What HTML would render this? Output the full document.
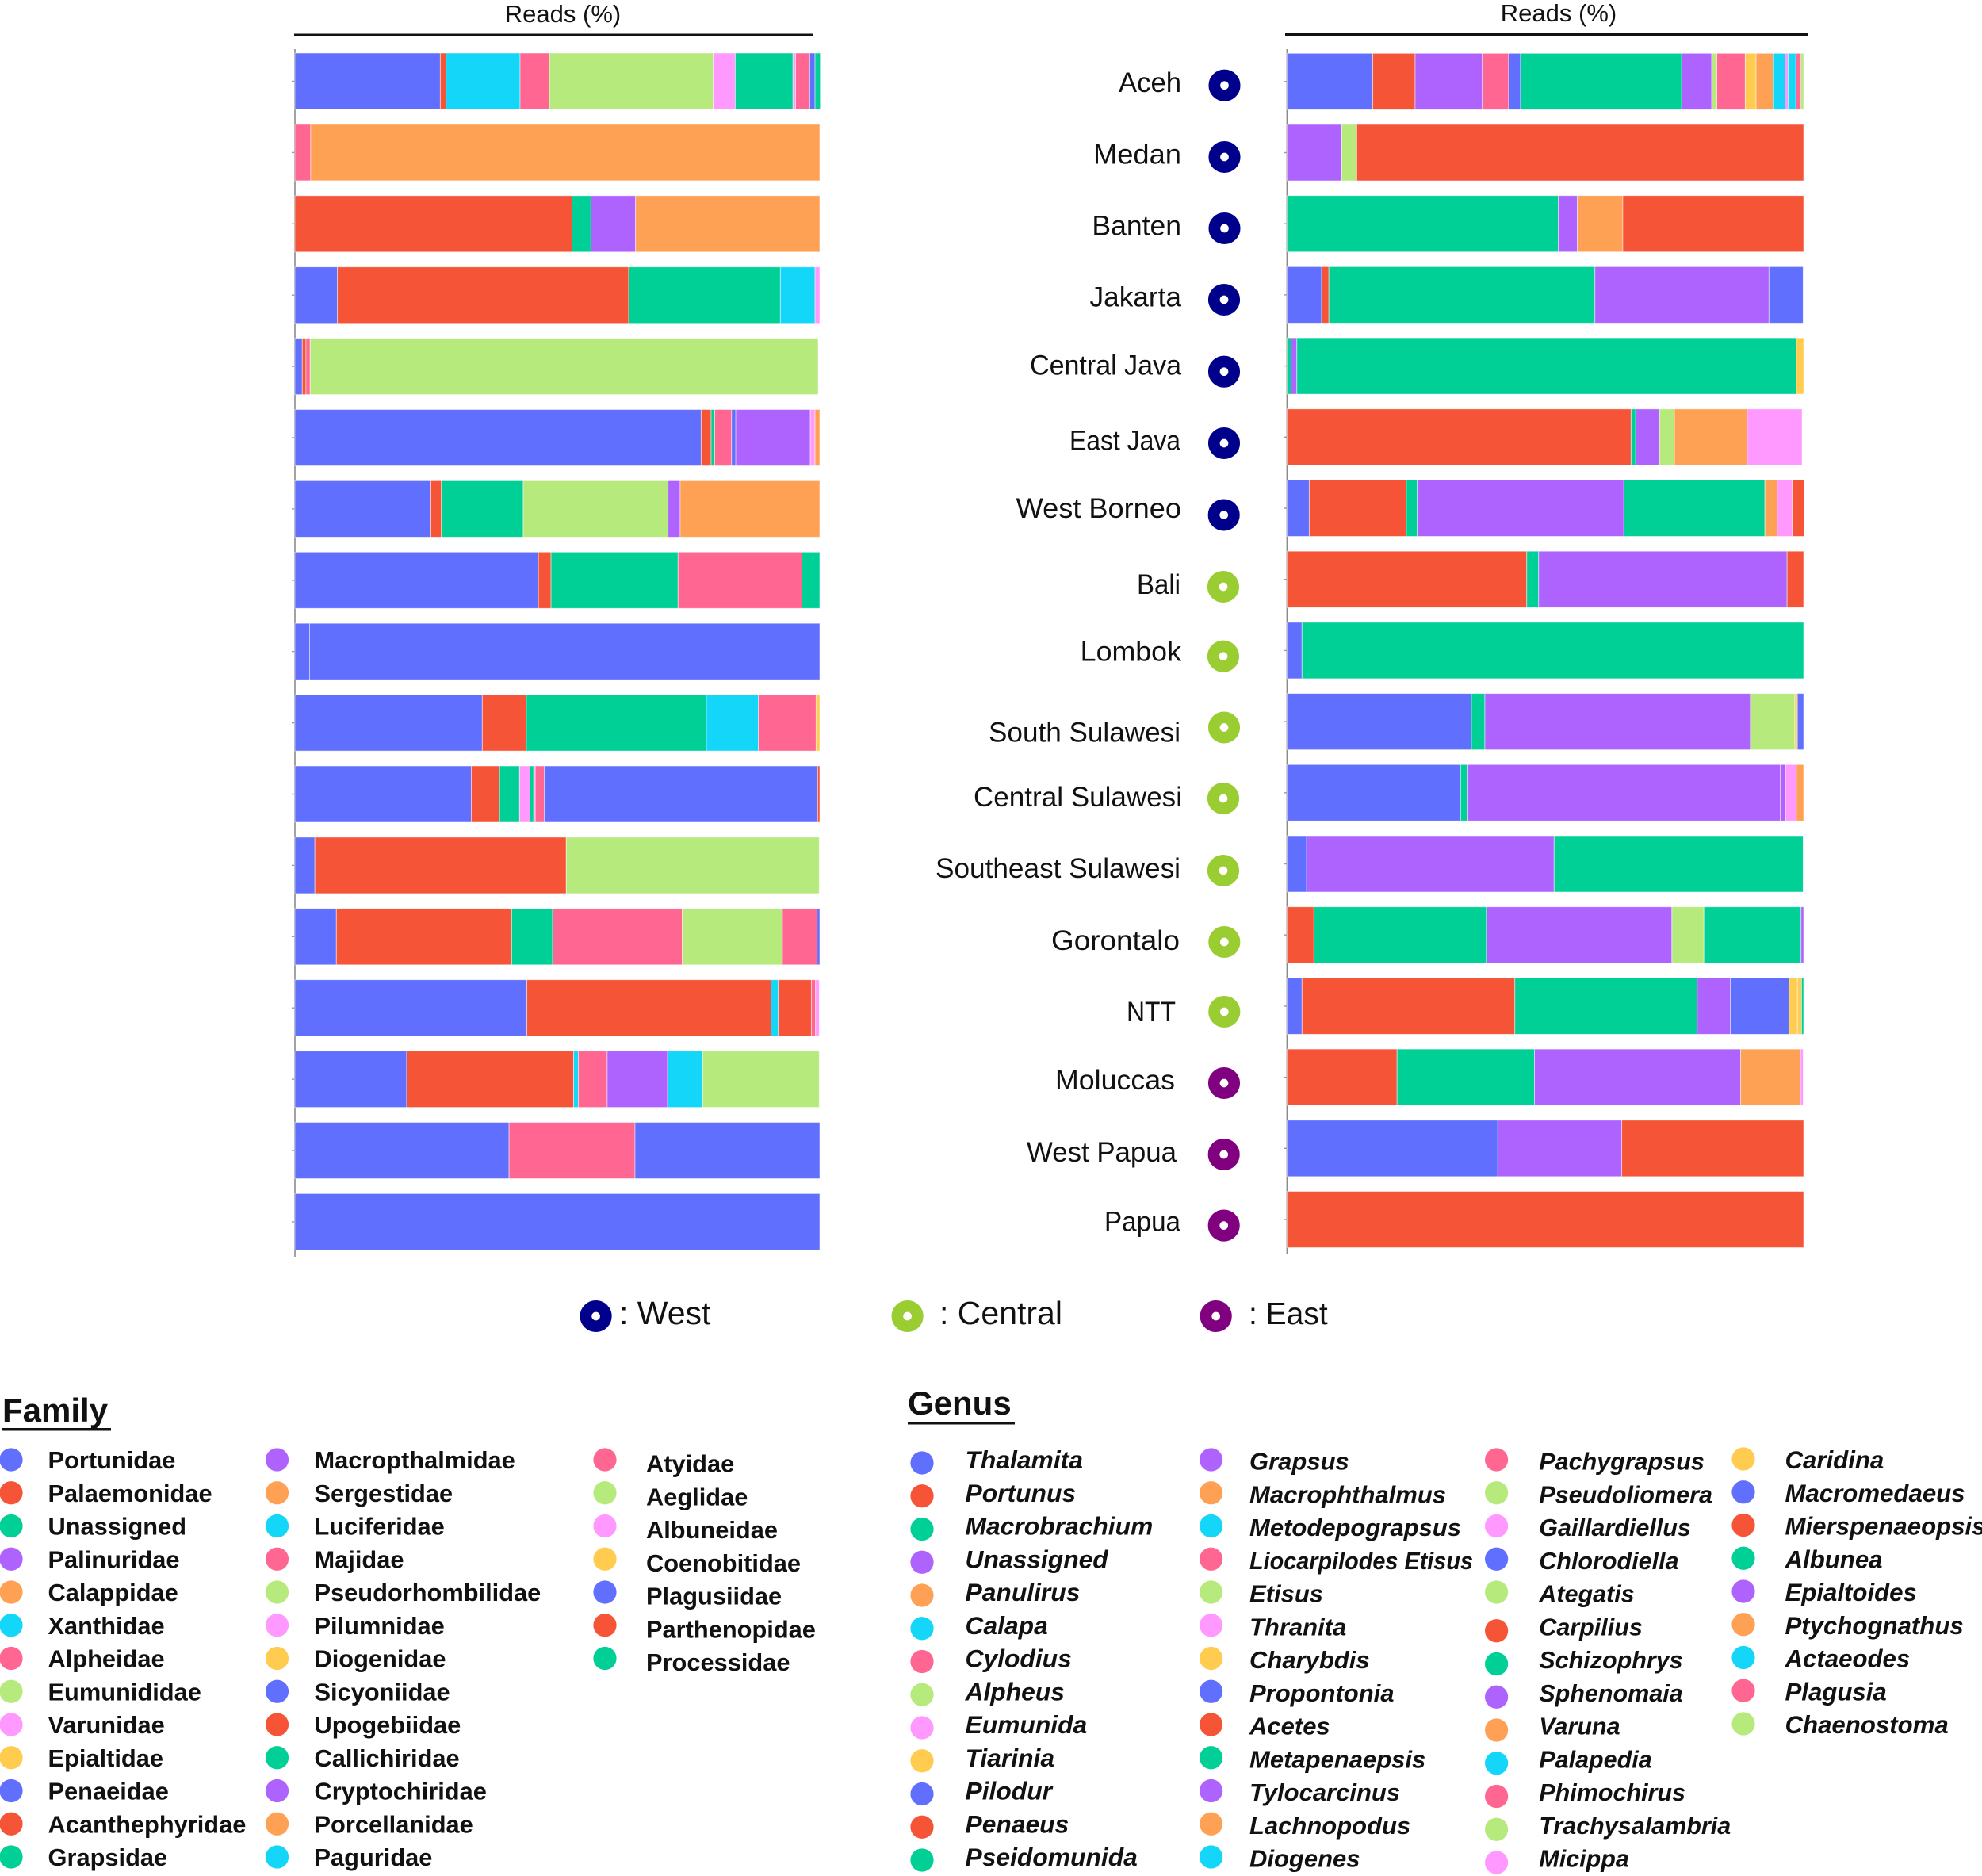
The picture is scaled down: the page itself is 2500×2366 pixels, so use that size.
<!DOCTYPE html>
<html lang="en">
<head>
<meta charset="utf-8">
<title>Reads (%) by region: Family and Genus</title>
<style>
html,body{margin:0;padding:0;background:#fff;}
body{width:2500px;height:2366px;overflow:hidden;}
svg{display:block;font-family:"Liberation Sans",sans-serif;}
.region{font-size:35px;fill:#111;text-anchor:end;}
.key{font-size:41px;fill:#111;}
.title{font-size:31px;fill:#111;text-anchor:middle;}
.head{font-size:42px;font-weight:bold;fill:#111;}
</style>
</head>
<body>
<svg id="figure" xmlns="http://www.w3.org/2000/svg" width="2500" height="2366" viewBox="0 0 2500 2366">
  <rect width="2500" height="2366" fill="#fff"/>

  <text class="title" x="710" y="28">Reads (%)</text>
  <rect x="371" y="42.5" width="655" height="3" fill="#111"/>
  <text class="title" x="1966" y="27">Reads (%)</text>
  <rect x="1621" y="42" width="660" height="3.5" fill="#111"/>

  <g id="family-panel"></g>
  <g id="genus-panel"></g>

  <g lengthAdjust="spacingAndGlyphs">
    <text class="region" x="1490" y="116" textLength="79" lengthAdjust="spacingAndGlyphs">Aceh</text>
    <text class="region" x="1490" y="206.7" textLength="111" lengthAdjust="spacingAndGlyphs">Medan</text>
    <text class="region" x="1490" y="296.7" textLength="112.6" lengthAdjust="spacingAndGlyphs">Banten</text>
    <text class="region" x="1490" y="386.7" textLength="115.5" lengthAdjust="spacingAndGlyphs">Jakarta</text>
    <text class="region" x="1490" y="472.3" textLength="191" lengthAdjust="spacingAndGlyphs">Central Java</text>
    <text class="region" x="1489" y="567.5" textLength="140" lengthAdjust="spacingAndGlyphs">East Java</text>
    <text class="region" x="1490" y="653" textLength="208.3" lengthAdjust="spacingAndGlyphs">West Borneo</text>
    <text class="region" x="1489" y="749" textLength="55" lengthAdjust="spacingAndGlyphs">Bali</text>
    <text class="region" x="1490" y="833.5" textLength="127.3" lengthAdjust="spacingAndGlyphs">Lombok</text>
    <text class="region" x="1489" y="935.5" textLength="242" lengthAdjust="spacingAndGlyphs">South Sulawesi</text>
    <text class="region" x="1491" y="1017" textLength="263" lengthAdjust="spacingAndGlyphs">Central Sulawesi</text>
    <text class="region" x="1489" y="1107" textLength="309" lengthAdjust="spacingAndGlyphs">Southeast Sulawesi</text>
    <text class="region" x="1488" y="1198" textLength="162" lengthAdjust="spacingAndGlyphs">Gorontalo</text>
    <text class="region" x="1483" y="1288" textLength="62" lengthAdjust="spacingAndGlyphs">NTT</text>
    <text class="region" x="1482" y="1374" textLength="151" lengthAdjust="spacingAndGlyphs">Moluccas</text>
    <text class="region" x="1484" y="1465" textLength="189" lengthAdjust="spacingAndGlyphs">West Papua</text>
    <text class="region" x="1489" y="1552.6" textLength="96" lengthAdjust="spacingAndGlyphs">Papua</text>
  </g>

  <g fill="none" stroke-width="14.7">
    <circle cx="1544.5" cy="107.7" r="12.7" stroke="#00008b"/>
    <circle cx="1544.5" cy="198" r="12.7" stroke="#00008b"/>
    <circle cx="1544.5" cy="288" r="12.7" stroke="#00008b"/>
    <circle cx="1544" cy="378" r="12.7" stroke="#00008b"/>
    <circle cx="1544" cy="468.7" r="12.7" stroke="#00008b"/>
    <circle cx="1544" cy="559" r="12.7" stroke="#00008b"/>
    <circle cx="1543.7" cy="649.5" r="12.7" stroke="#00008b"/>
    <circle cx="1543" cy="740" r="12.7" stroke="#9acd32"/>
    <circle cx="1543" cy="827.7" r="12.7" stroke="#9acd32"/>
    <circle cx="1544" cy="917.5" r="12.7" stroke="#9acd32"/>
    <circle cx="1543" cy="1007" r="12.7" stroke="#9acd32"/>
    <circle cx="1543" cy="1098" r="12.7" stroke="#9acd32"/>
    <circle cx="1544.3" cy="1188" r="12.7" stroke="#9acd32"/>
    <circle cx="1544.3" cy="1276" r="12.7" stroke="#9acd32"/>
    <circle cx="1544" cy="1366" r="12.7" stroke="#800080"/>
    <circle cx="1543.7" cy="1456" r="12.7" stroke="#800080"/>
    <circle cx="1543.7" cy="1545.6" r="12.7" stroke="#800080"/>
  </g>

  <g>
    <circle cx="751.6" cy="1660" r="12.7" fill="none" stroke="#00008b" stroke-width="14.7"/>
    <text class="key" x="781" y="1670">: West</text>
    <circle cx="1144.6" cy="1660" r="12.7" fill="none" stroke="#9acd32" stroke-width="14.7"/>
    <text class="key" x="1185" y="1670">: Central</text>
    <circle cx="1533.7" cy="1660" r="12.7" fill="none" stroke="#800080" stroke-width="14.7"/>
    <text class="key" x="1575" y="1670" style="font-size:39px">: East</text>
  </g>

  <text class="head" x="3" y="1793">Family</text>
  <rect x="3" y="1801" width="137" height="3.5" fill="#111"/>
  <text class="head" x="1145" y="1784">Genus</text>
  <rect x="1145" y="1793" width="135" height="3.5" fill="#111"/>

  <g id="family-legend"></g>
  <g id="genus-legend"></g>
</svg>

<script>
// Row categories (top to bottom)
const regions = ["Aceh","Medan","Banten","Jakarta","Central Java","East Java","West Borneo","Bali","Lombok","South Sulawesi","Central Sulawesi","Southeast Sulawesi","Gorontalo","NTT","Moluccas","West Papua","Papua"];

// Ten-colour cycle shared by the bars and legends
const palette = ["#616FFF","#F55437","#00D095","#AE63FF","#FFA155","#14D6F9","#FF6692","#B7EA7D","#FF99FF","#FFCC50"];

// Family panel: read percentages per row, with the palette slot of each segment
const familyValues = [
  [27.7,1.1,14.1,5.6,31.2,4.2,11,0.5,2.7,1,1],
  [3,97],
  [52.8,3.6,8.5,35.1],
  [8.1,55.5,28.9,6.6,0.9],
  [1.4,0.7,0.8,96.8],
  [77.4,1.9,0.7,3.2,0.8,14.2,0.9,0.9],
  [25.9,2,15.6,27.6,2.3,26.6],
  [46.4,2.4,24.2,23.6,3.4],
  [2.8,97.2],
  [35.7,8.4,34.3,9.9,11,0.7],
  [33.6,5.4,3.8,2,0.7,0.3,1.7,52.1,0.4],
  [3.8,47.9,48.2],
  [7.9,33.4,7.8,24.7,19.1,6.6,0.5],
  [44.2,46.5,1.4,6.3,0.8,0.7],
  [21.3,31.8,0.9,5.5,11.5,6.7,22.2],
  [40.8,24,35.2],
  [100]
];
const familySeries = [
  [0,1,5,6,7,8,2,8,6,0,2],
  [6,4],
  [1,2,3,4],
  [0,1,2,5,8],
  [0,1,6,7],
  [0,1,2,6,0,3,8,4],
  [0,1,2,7,3,4],
  [0,1,2,6,2],
  [0,0],
  [0,1,2,5,6,9],
  [0,1,2,8,2,8,6,0,1],
  [0,1,7],
  [0,1,2,6,7,6,0],
  [0,1,5,1,6,8],
  [0,1,5,6,3,5,7],
  [0,6,0],
  [0]
];

// Genus panel: read percentages per row, with the palette slot of each segment
const genusValues = [
  [16.6,8.2,13,5.1,2.3,31.2,5.8,1,5.5,2.1,3.4,2.2,0.6,1.5,1,0.5],
  [10.6,2.9,86.5],
  [52.5,3.7,8.8,35],
  [6.7,1.4,51.5,33.7,6.6],
  [0.8,1.1,96.7,1.4],
  [66.6,0.9,4.6,2.9,14.1,10.6],
  [4.3,18.8,2.1,40,27.3,2.4,2.9,2.3],
  [46.4,2.3,48.1,3.2],
  [2.9,97.1],
  [35.7,2.6,51.4,8.6,0.5,1.2],
  [33.6,1.4,60.5,1,2.1,1.4],
  [3.8,47.9,48.2],
  [5.2,33.4,35.9,6.2,18.8,0.5],
  [2.9,41.2,35.3,6.4,11.4,1.6,0.8,0.4],
  [21.3,26.6,39.9,11.6,0.5],
  [40.8,24,35.2],
  [100]
];
const genusSeries = [
  [0,1,3,6,0,2,3,7,6,9,4,5,8,5,6,7],
  [3,7,1],
  [2,3,4,1],
  [0,1,2,3,0],
  [2,3,2,9],
  [1,2,3,7,4,8],
  [0,1,2,3,2,4,8,1],
  [1,2,3,1],
  [0,2],
  [0,2,3,7,9,0],
  [0,2,3,3,8,4],
  [0,3,2],
  [1,2,3,7,2,3],
  [0,1,2,3,0,9,9,2],
  [1,2,3,4,8],
  [0,3,1],
  [1]
];

// Legend names
const familyColumnOne = ["Portunidae","Palaemonidae","Unassigned","Palinuridae","Calappidae","Xanthidae","Alpheidae","Eumunididae","Varunidae","Epialtidae","Penaeidae","Acanthephyridae","Grapsidae"];
const familyColumnTwo = ["Macropthalmidae","Sergestidae","Luciferidae","Majidae","Pseudorhombilidae","Pilumnidae","Diogenidae","Sicyoniidae","Upogebiidae","Callichiridae","Cryptochiridae","Porcellanidae","Paguridae"];
const familyColumnThree = ["Atyidae","Aeglidae","Albuneidae","Coenobitidae","Plagusiidae","Parthenopidae","Processidae"];
const genusColumnOne = ["Thalamita","Portunus","Macrobrachium","Unassigned","Panulirus","Calapa","Cylodius","Alpheus","Eumunida","Tiarinia","Pilodur","Penaeus","Pseidomunida"];
const genusColumnTwo = ["Grapsus","Macrophthalmus","Metodepograpsus","Liocarpilodes Etisus","Etisus","Thranita","Charybdis","Propontonia","Acetes","Metapenaepsis","Tylocarcinus","Lachnopodus","Diogenes"];
const genusColumnThree = ["Pachygrapsus","Pseudoliomera","Gaillardiellus","Chlorodiella","Ategatis","Carpilius","Schizophrys","Sphenomaia","Varuna","Palapedia","Phimochirus","Trachysalambria","Micippa"];
const genusColumnThreeColours = [6,7,8,0,7,1,2,3,4,5,6,7,8];
const genusColumnFour = ["Caridina","Macromedaeus","Mierspenaeopsis","Albunea","Epialtoides","Ptychognathus","Actaeodes","Plagusia","Chaenostoma"];

const SVG_NS = "http://www.w3.org/2000/svg";
function slug(s){ return s.toLowerCase().replace(/[^a-z0-9]+/g,"-"); }

function drawPanel(host, prefix, values, series, x0, plotWidth, rowTop, rowStep, barHeight, axisTop, axisBottom){
  const xScale = function(v){ return x0 + v / 100 * plotWidth; };
  const yScale = function(i){ return rowTop + i * rowStep; };

  const axis = document.createElementNS(SVG_NS, "line");
  
  
  axis.setAttribute("x1", x0); axis.setAttribute("x2", x0);
  axis.setAttribute("y1", axisTop); axis.setAttribute("y2", axisBottom);
  axis.setAttribute("stroke", "#8a8a8a"); axis.setAttribute("stroke-width", "1.6");
  host.appendChild(axis);

  values.forEach(function(row, r){
    const rowGroup = document.createElementNS(SVG_NS, "g");
    
    
    host.appendChild(rowGroup);

    const tick = document.createElementNS(SVG_NS, "line");
    
    
    tick.setAttribute("x1", x0 - 4); tick.setAttribute("x2", x0);
    tick.setAttribute("y1", yScale(r) + barHeight / 2); tick.setAttribute("y2", yScale(r) + barHeight / 2);
    tick.setAttribute("stroke", "#999"); tick.setAttribute("stroke-width", "1.4");
    rowGroup.appendChild(tick);

    let cumulative = 0;
    row.forEach(function(v, s){
      const bar = document.createElementNS(SVG_NS, "rect");
      
      
      bar.setAttribute("x", xScale(cumulative));
      bar.setAttribute("y", yScale(r));
      bar.setAttribute("width", xScale(cumulative + v) - xScale(cumulative));
      bar.setAttribute("height", barHeight);
      bar.setAttribute("fill", palette[series[r][s]]);
      bar.setAttribute("stroke", "rgba(255,255,255,0.55)");
      bar.setAttribute("stroke-width", "0.9");
      rowGroup.appendChild(bar);
      cumulative += v;
    });
  });
}

function drawLegendColumn(host, names, colourOf, dotX, dotY, textX, baseY, fontSize, italic, jumpFrom, jump){
  const step = 41.75;
  names.forEach(function(name, i){
    const entry = document.createElementNS(SVG_NS, "g");
    
    

    const dot = document.createElementNS(SVG_NS, "circle");
    
    
    dot.setAttribute("cx", dotX);
    dot.setAttribute("cy", dotY + i * step + (i >= jumpFrom ? jump : 0));
    dot.setAttribute("r", 14.6);
    dot.setAttribute("fill", palette[colourOf(i)]);
    entry.appendChild(dot);

    const label = document.createElementNS(SVG_NS, "text");
    
    
    label.setAttribute("x", textX);
    label.setAttribute("y", baseY + i * step);
    label.setAttribute("font-size", fontSize);
    label.setAttribute("font-weight", "bold");
    label.setAttribute("fill", "#111");
    if (italic) label.setAttribute("font-style", "italic");
    if (name === "Liocarpilodes Etisus") {
      label.setAttribute("textLength", 282);
      label.setAttribute("lengthAdjust", "spacingAndGlyphs");
    }
    label.textContent = name;
    entry.appendChild(label);

    host.appendChild(entry);
  });
}

function cycleFrom(start){
  return function(i){ return (start + i) % palette.length; };
}

drawPanel(document.getElementById("family-panel"), "family", familyValues, familySeries, 372, 662, 67, 89.9, 71, 62, 1585);
drawPanel(document.getElementById("genus-panel"), "genus", genusValues, genusSeries, 1623.4, 651.6, 67.3, 89.7, 71, 62, 1582);

const familyLegend = document.getElementById("family-legend");
drawLegendColumn(familyLegend, familyColumnOne, cycleFrom(0), 14, 1841, 60.5, 1852, 30.8, false, 99, 0);
drawLegendColumn(familyLegend, familyColumnTwo, cycleFrom(3), 349.5, 1841, 396.5, 1852, 30.8, false, 99, 0);
drawLegendColumn(familyLegend, familyColumnThree, cycleFrom(6), 763, 1841, 815, 1856.7, 30.8, false, 99, 0);

const genusLegend = document.getElementById("genus-legend");
drawLegendColumn(genusLegend, genusColumnOne, cycleFrom(0), 1163, 1845, 1217.5, 1852, 31.8, true, 99, 0);
drawLegendColumn(genusLegend, genusColumnTwo, cycleFrom(3), 1527.6, 1841, 1576, 1853.5, 31, true, 99, 0);
drawLegendColumn(genusLegend, genusColumnThree, function(i){ return genusColumnThreeColours[i]; }, 1887.6, 1841, 1941.3, 1853.5, 30.5, true, 5, 7);
drawLegendColumn(genusLegend, genusColumnFour, cycleFrom(9), 2199, 1840, 2251.5, 1852, 31.2, true, 99, 0);
</script>
</body>
</html>
